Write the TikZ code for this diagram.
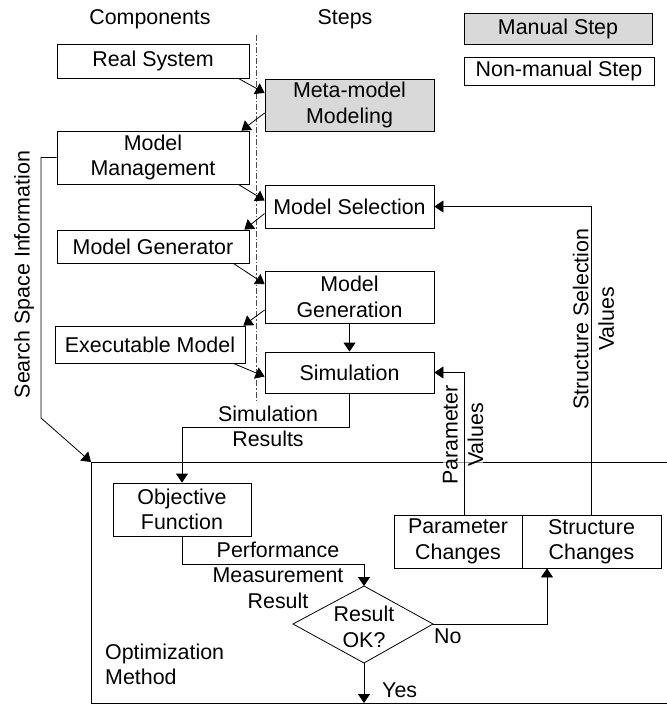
\documentclass[tikz,border=0pt]{standalone}
\usepackage{fontspec}
\setmainfont{Liberation Sans}
\usetikzlibrary{arrows.meta}
\definecolor{manualgray}{RGB}{217,217,217}
\tikzset{
  every node/.style={font=\fontsize{21.4}{25.5}\selectfont, inner sep=0pt, align=center},
  box/.style={draw, line width=0.8pt},
  arr/.style={line width=0.8pt, -{Triangle[length=9pt,width=12pt]}},
  conn/.style={line width=0.8pt},
  lbl/.style={fill=white, fill opacity=0.6, text opacity=1},
}
\begin{document}
\begin{tikzpicture}[x=1pt,y=-1pt]
\useasboundingbox (0,0) rectangle (667,705);
% headers
\node (hcomp) at (150,19) {Components};
\node (hsteps) at (345,19) {Steps};
% legend
\node[box, fill=manualgray, minimum width=188, minimum height=31] (manual) at (558,28.5) {Manual Step};
\node[box, minimum width=190, minimum height=28] (nonmanual) at (559,71) {Non-manual Step};
% separator
\coordinate (sepT) at (256,35);
\coordinate (sepB) at (256,400);
\draw[line width=0.7pt, dash pattern=on 6pt off 2pt on 1.5pt off 2pt, black!70] (sepT) -- (sepB);
% components
\node[box, minimum width=192, minimum height=34] (rs) at (153,61) {Real System};
\node[box, minimum width=192, minimum height=53] (mm) at (153,157.5) {Model\\Management};
\node[box, minimum width=192, minimum height=33] (mgen) at (153,246.5) {Model Generator};
\node[box, minimum width=190, minimum height=37] (exe) at (150,344.5) {Executable Model};
% steps
\node[box, fill=manualgray, minimum width=169, minimum height=52] (meta) at (349.5,105) {Meta-model\\Modeling};
\node[box, minimum width=169, minimum height=43] (msel) at (349.5,206.5) {Model Selection};
\node[box, minimum width=169, minimum height=52] (mgn) at (349.5,297) {Model\\Generation};
\node[box, minimum width=169, minimum height=41] (sim) at (349.5,372.5) {Simulation};
% optimization
\coordinate (optTR) at (667,462);
\coordinate (optTL) at (91,462);
\coordinate (optBL) at (91,703);
\coordinate (optBR) at (667,703);
\draw[conn] (optTR) -- (optTL) -- (optBL) -- (optBR);
\node[anchor=west, align=left] (optlbl) at (105,664.5) {Optimization\\Method};
\node[box, minimum width=138, minimum height=53] (obj) at (182,509.5) {Objective\\Function};
\node[box, minimum width=128, minimum height=53] (pc) at (458,541.5) {Parameter\\Changes};
\node[box, minimum width=139, minimum height=53] (sc) at (591.5,541.5) {Structure\\Changes};
% diamond
\coordinate (dtop) at (364,586);
\coordinate (dright) at (433,624);
\coordinate (dbot) at (364,663);
\coordinate (dleft) at (293,624);
\draw[conn] (dtop) -- (dright) -- (dbot) -- (dleft) -- cycle;
\node (dtext) at (364,627) {Result\\OK?};
% labels
\node[rotate=90] (sslbl) at (24,274.5) {Search Space Information};
\node[lbl, rotate=90] (pvlbl) at (463,435) {Parameter\\Values};
\node[lbl, rotate=90] (sslvl) at (593.5,319) {Structure Selection\\Values};
\node (simres) at (268,426.5) {Simulation\\Results};
\node (pmr) at (278,575) {Performance\\Measurement\\Result};
\node[anchor=west] (nolbl) at (434,636) {No};
\node[anchor=west] (yeslbl) at (382,690) {Yes};
% connectors
\draw[arr] ([xshift=-11]rs.south east) -- ([yshift=12]meta.west);
\draw[arr] ([yshift=-8]meta.west) -- ([xshift=-8]mm.north east);
\draw[arr] ([xshift=-11]mm.south east) -- ([yshift=6]msel.west);
\draw[arr] ([yshift=-7]msel.west) -- ([xshift=-5]mgen.north east);
\draw[arr] ([xshift=-16]mgen.south east) -- ([yshift=13]mgn.west);
\draw[arr] ([yshift=-13]mgn.west) -- ([xshift=-2]exe.north east);
\draw[arr] ([xshift=-12]exe.south east) -- ([yshift=-4]sim.west);
\draw[arr] (mgn.south) -- (sim.north);
\coordinate (simbend) at (349.5,427);
\draw[arr] (sim.south) -- (simbend) -| (obj.north);
\coordinate (objbend) at (182,564);
\draw[arr] (obj.south) -- (objbend) -| (dtop);
\draw[arr] (dright) -| ([xshift=-44.5]sc.south);
\draw[arr] (dbot) -- (dbot |- optBL);
\draw[arr] (sc.north) |- (msel.east);
\draw[arr] ([xshift=6]pc.north) |- (sim.east);
\coordinate (ssa) at (41,157.5);
\coordinate (ssb) at (41,418);
\draw[arr] (mm.west) -- (ssa) -- (ssb) -- (optTL);
\end{tikzpicture}
\end{document}
